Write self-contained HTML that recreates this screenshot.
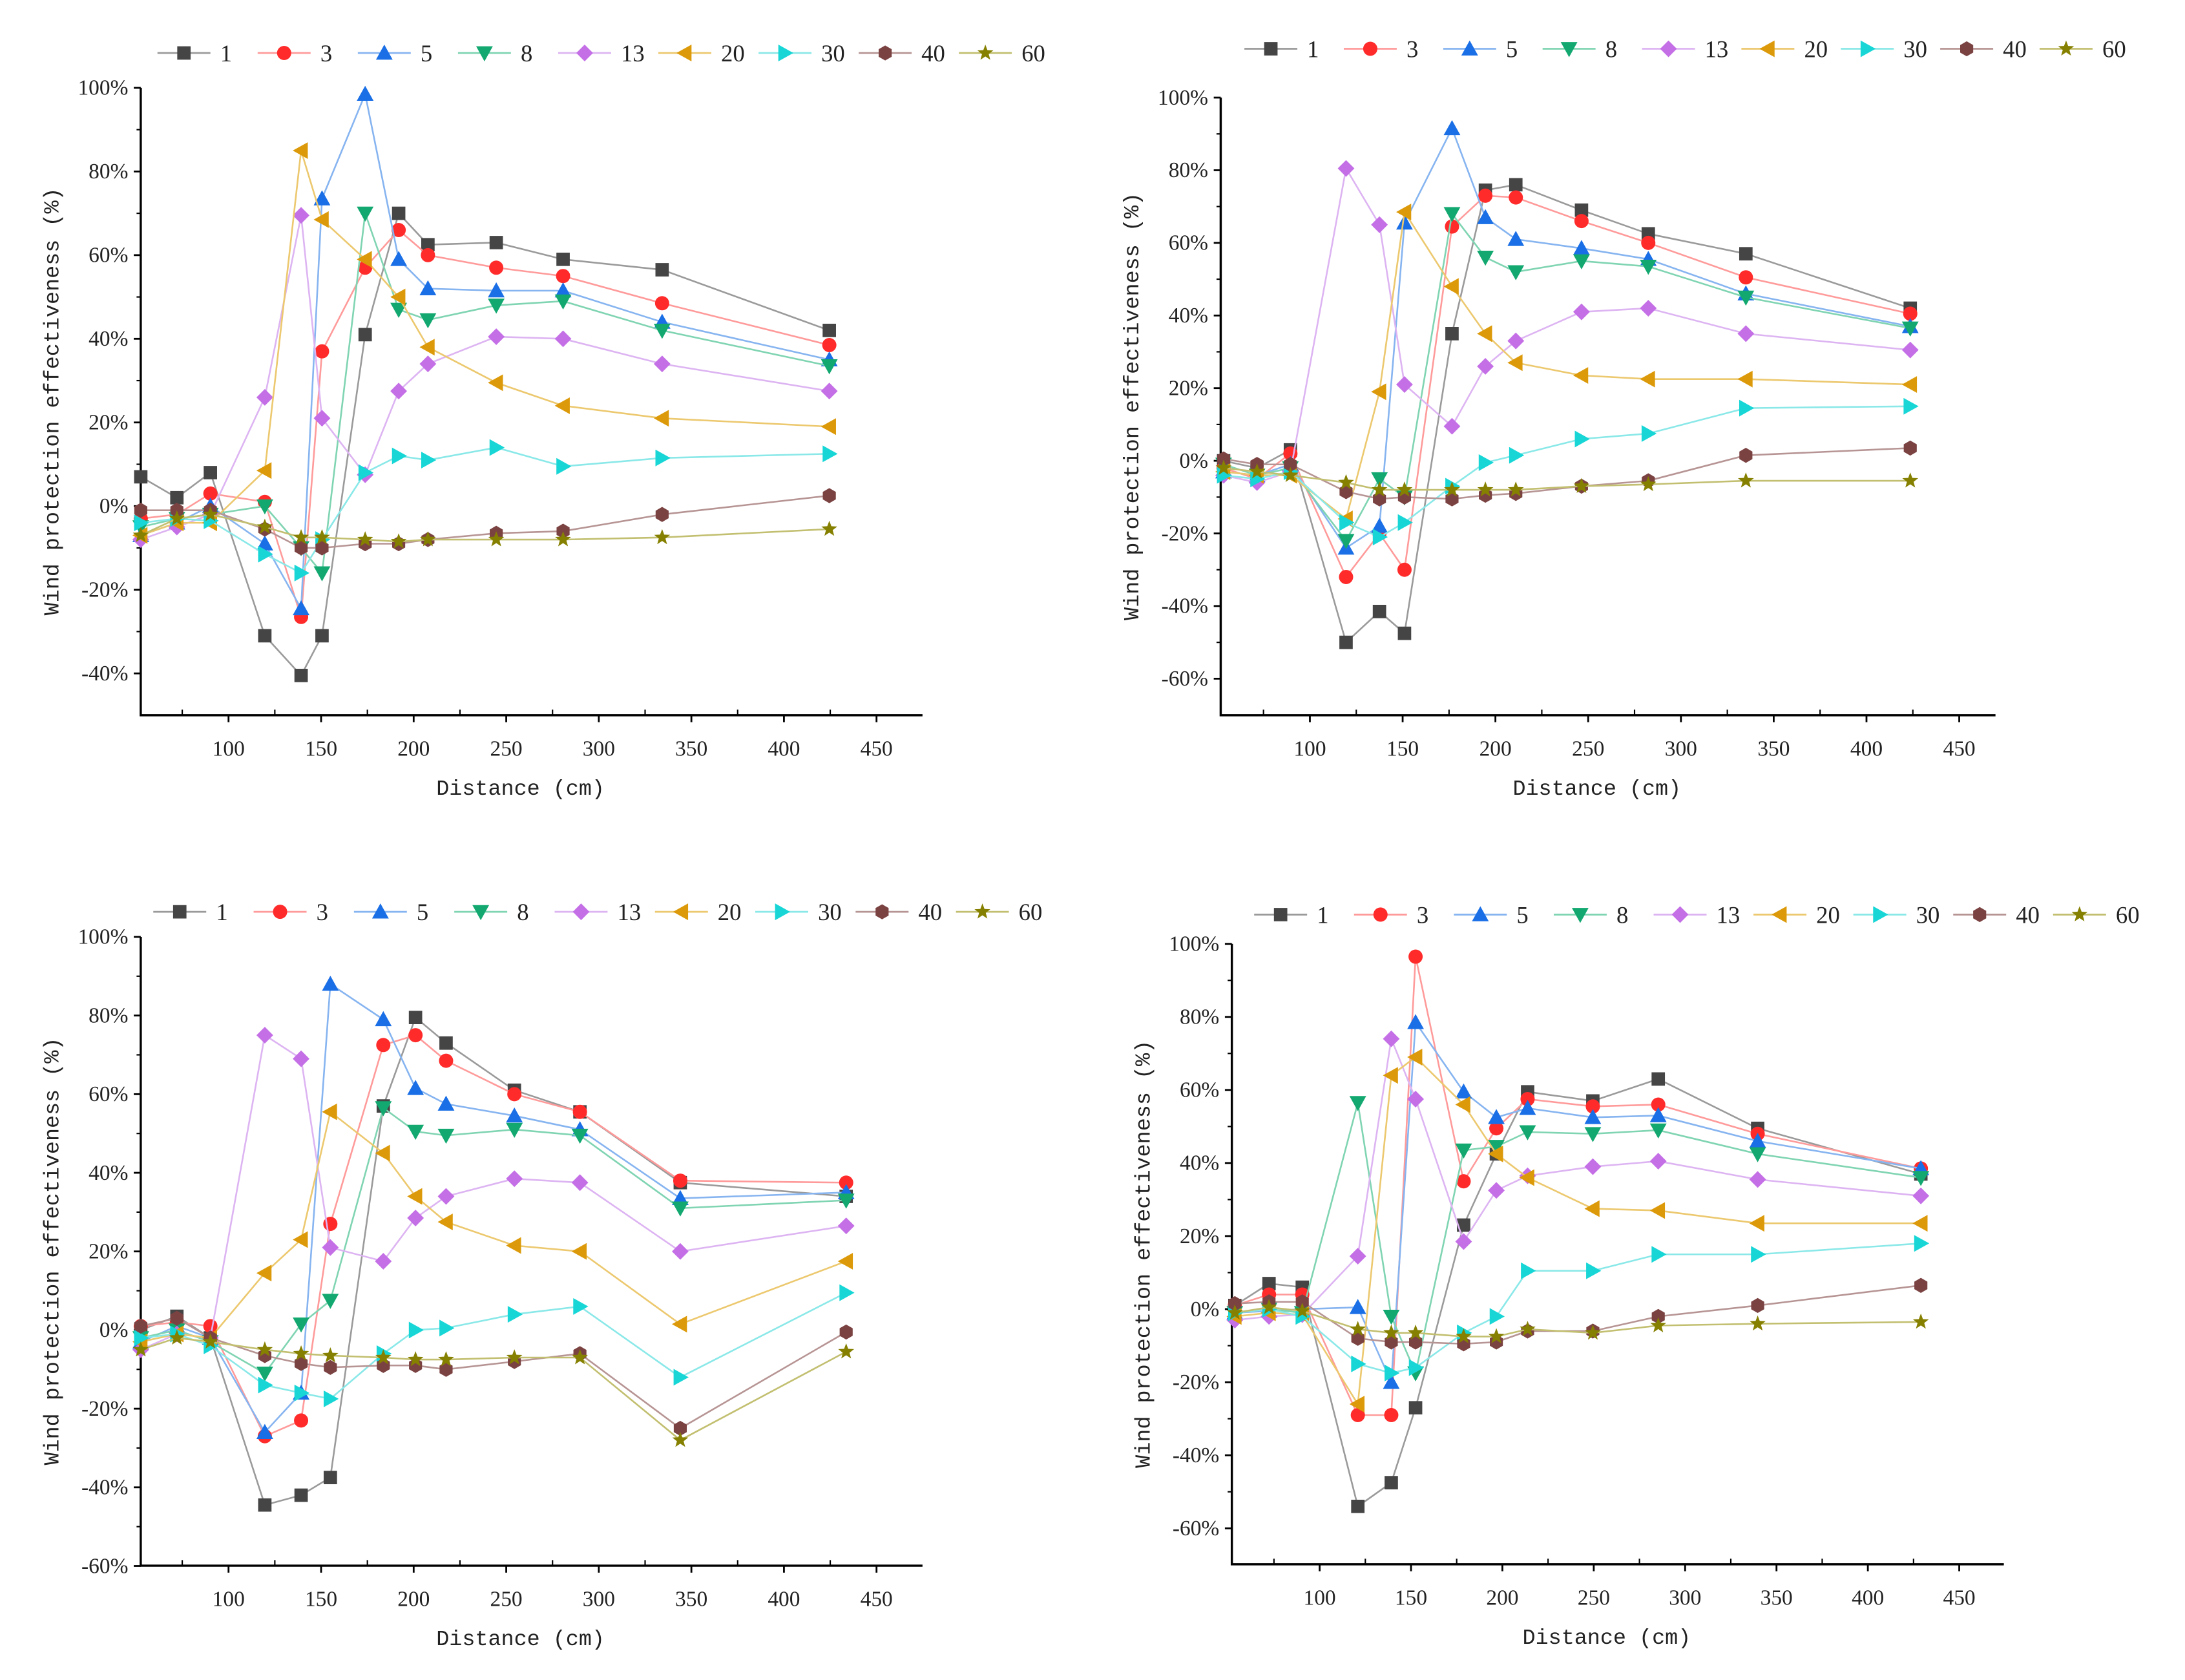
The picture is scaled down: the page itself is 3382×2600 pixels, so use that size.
<!DOCTYPE html>
<html><head><meta charset="utf-8">
<style>
html,body{margin:0;padding:0;background:#fff;}
svg{display:block;}
</style></head>
<body>
<svg id="fig" xmlns="http://www.w3.org/2000/svg" width="3382" height="2600" viewBox="0 0 1568 1205" preserveAspectRatio="none">
<rect width="1568" height="1205" fill="#fff"/>
</svg>
<script>
const seriesNames = ["1","3","5","8","13","20","30","40","60"];
const xTicks = [100,150,200,250,300,350,400,450];

const c1X = [52.6,72.1,90.2,119.6,139.2,150.5,173.8,191.9,207.7,244.6,280.7,334.2,424.5];
const c1Values = [
 [7,2,8,-31,-40.5,-31,41,70,62.5,63,59,56.5,42],
 [-3,-2,3,1,-26.5,37,57,66,60,57,55,48.5,38.5],
 [-7,-4,0,-9,-24.5,73.5,98.5,59,52,51.5,51.5,44,35],
 [-5,-3,-2,0,-10,-16,70,47,44.5,48,49,42,33.5],
 [-8,-5,-2,26,69.5,21,7.5,27.5,34,40.5,40,34,27.5],
 [-7,-4,-4,8.5,85,68.5,59,50,38,29.5,24,21,19],
 [-4,-3,-3.5,-11.5,-16,-8,8,12,11,14,9.5,11.5,12.5],
 [-1,-1,-1,-5.5,-10,-10,-9,-9,-8,-6.5,-6,-2,2.5],
 [-7,-3,-2,-5,-7.5,-7.5,-8,-8.5,-8,-8,-8,-7.5,-5.5]
];
const c1YTicks = [100,80,60,40,20,0,-20,-40];

const c2X = [53.5,71.5,89.5,119.5,137.5,151,176.6,194.6,211,246.4,282.4,335,423.6];
const c2Values = [
 [0,-2,3,-50,-41.5,-47.5,35,74.5,76,69,62.5,57,42],
 [-2,-5,2,-32,-20,-30,64.5,73,72.5,66,60,50.5,40.5],
 [-3,-4,-1,-24,-18,65.5,91.5,67,61,58.5,55.5,46,37],
 [-1,-4,-2,-22,-5,-10,68,56,52,55,53.5,45,36.5],
 [-4,-6,-3,80.5,65,21,9.5,26,33,41,42,35,30.5],
 [-3,-4,-4,-16,19,68.5,48,35,27,23.5,22.5,22.5,21],
 [-4,-5,-3,-17,-21,-17,-7,-0.5,1.5,6,7.5,14.5,15],
 [0.5,-1,-1,-8.5,-10.5,-10,-10.5,-9.5,-9,-7,-5.5,1.5,3.5],
 [-2,-3,-4,-6,-8,-8,-8,-8,-8,-7,-6.5,-5.5,-5.5]
];
const c2YTicks = [100,80,60,40,20,0,-20,-40,-60];

const c3X = [52.6,72.1,90.2,119.6,139.2,155,183.6,201,217.5,254.4,289.8,344,433.6];
const c3Values = [
 [0,3.5,-2,-44.5,-42,-37.5,57,79.5,73,61,55.5,37.5,34],
 [1,2,1,-27,-23,27,72.5,75,68.5,60,55.5,38,37.5],
 [-3,1,-2,-26,-16,88,79,61.5,57.5,54.5,51,33.5,35],
 [-2,0,-3,-11,1.5,7.5,56.5,50.5,49.5,51,49.5,31,33],
 [-5,-1,-2,75,69,21,17.5,28.5,34,38.5,37.5,20,26.5],
 [-3,-1,-2,14.5,23,55.5,45,34,27.5,21.5,20,1.5,17.5],
 [-2,-1,-4,-14,-16,-17.5,-6,0,0.5,4,6,-12,9.5],
 [1,3,-2,-6.5,-8.5,-9.5,-9,-9,-10,-8,-6,-25,-0.5],
 [-5,-2,-3,-5,-6,-6.5,-7,-7.5,-7.5,-7,-7,-28,-5.5]
];
const c3YTicks = [100,80,60,40,20,0,-20,-40,-60];

const c4X = [53.6,72.3,90.5,120.9,139.2,152.5,178.8,196.7,213.8,249.5,285.3,339.7,429];
const c4Values = [
 [1,7,6,-54,-47.5,-27,23,42.5,59.5,57,63,49.5,37],
 [1,4,4,-29,-29,96.5,35,49.5,57.5,55.5,56,48,38.5],
 [-1,-0.5,0,0.5,-20,78.5,59.5,52.5,55,52.5,53,46,38.5],
 [-1,0,-1,56.5,-2,-17.5,43.5,44.5,48.5,48,49,42.5,36],
 [-3,-2,-1.5,14.5,74,57.5,18.5,32.5,36.5,39,40.5,35.5,31],
 [-2,-1,-1.5,-26,64,69,56,42.5,36,27.5,27,23.5,23.5],
 [-1,0,-2,-15,-17.5,-16,-6.5,-2,10.5,10.5,15,15,18],
 [1.5,2,2,-8,-9,-9,-9.5,-9,-6,-6,-2,1,6.5],
 [-1,0.5,-0.5,-5.5,-6.5,-6.5,-7.5,-7.5,-5.5,-6.5,-4.5,-4,-3.5]
];
const c4YTicks = [100,80,60,40,20,0,-20,-40,-60];

const markerColors = ["#454545","#ff2b2b","#1a6fe6","#12a870","#c46fe6","#dc9a0a","#18d6d6","#7b4242","#858000"];
const lineColors = ["#9a9a9a","#ff9a9a","#86b4f0","#7fd4b2","#ddb4f2","#ecc86e","#8ae8e8","#b79494","#c2bf70"];
const shapes = ["square","circle","up","down","diamond","left","right","hex","star"];

const NS = "http://www.w3.org/2000/svg";
const svg = document.getElementById("fig");
function mk(tag, attrs, parent){
  const e = document.createElementNS(NS, tag);
  for (const k in attrs) e.setAttribute(k, attrs[k]);
  (parent||svg).appendChild(e);
  return e;
}
function markerPath(shape, cx, cy, r){
  let pts=[];
  if(shape==="square") return `M${cx-r*0.8},${cy-r*0.8}h${1.6*r}v${1.6*r}h${-1.6*r}z`;
  if(shape==="circle") return `M${cx-r*0.85},${cy}a${r*0.85},${r*0.85} 0 1,0 ${1.7*r},0a${r*0.85},${r*0.85} 0 1,0 ${-1.7*r},0z`;
  if(shape==="up") pts=[[cx,cy-r],[cx+r,cy+0.8*r],[cx-r,cy+0.8*r]];
  if(shape==="down") pts=[[cx,cy+r],[cx+r,cy-0.8*r],[cx-r,cy-0.8*r]];
  if(shape==="left") pts=[[cx-r,cy],[cx+0.8*r,cy-r],[cx+0.8*r,cy+r]];
  if(shape==="right") pts=[[cx+r,cy],[cx-0.8*r,cy-r],[cx-0.8*r,cy+r]];
  if(shape==="diamond") pts=[[cx,cy-r],[cx+r,cy],[cx,cy+r],[cx-r,cy]];
  if(shape==="hex"){ for(let i=0;i<6;i++){const a=Math.PI/6+i*Math.PI/3; pts.push([cx+r*0.9*Math.cos(a),cy+r*0.9*Math.sin(a)]);} }
  if(shape==="star"){ for(let i=0;i<10;i++){const a=-Math.PI/2+i*Math.PI/5; const rr=i%2?r*0.42:r; pts.push([cx+rr*Math.cos(a),cy+rr*Math.sin(a)]);} }
  return "M"+pts.map(p=>p[0].toFixed(2)+","+p[1].toFixed(2)).join("L")+"Z";
}

function drawChart(id, L, xs, values, yTicks){
  const g = mk("g",{});
  
  
  const xScale = v => L.x100 + (v-100)/50*L.px50;
  const yScale = v => L.y0 - v/20*L.py20;
  const lg = mk("g",{},g);
  
  
  const step = (L.legR - L.legL)/9;
  seriesNames.forEach((n,i)=>{
    const e = mk("g",{},lg);
    
    
    const x0 = L.legL + i*step;
    mk("line",{x1:x0,y1:L.legY,x2:x0+38,y2:L.legY,stroke:lineColors[i],"stroke-width":1.3},e);
    mk("path",{d:markerPath(shapes[i],x0+19,L.legY,6),fill:markerColors[i]},e);
    const t = mk("text",{x:x0+45,y:L.legY+6,"font-family":"Liberation Serif, serif","font-size":17,fill:"#222"},e);
    t.textContent = n;
  });
  const yTop = L.y0 - 100/20*L.py20;
  const ax = mk("path",{d:`M${L.axL},${yTop}V${L.axB}H${L.axR}`,stroke:"#000","stroke-width":1.6,fill:"none"},g);
  
  
  yTicks.forEach(v=>{
    const y=yScale(v);
    mk("line",{x1:L.axL-5,y1:y,x2:L.axL,y2:y,stroke:"#000","stroke-width":1.3},g);
    const t=mk("text",{x:L.axL-9,y:y+5,"text-anchor":"end","font-family":"Liberation Serif, serif","font-size":15.5,fill:"#222"},g);
    
    
    t.textContent = v+"%";
    const ym=yScale(v-10);
    if (ym < L.axB-2) mk("line",{x1:L.axL-3,y1:ym,x2:L.axL,y2:ym,stroke:"#000","stroke-width":1},g);
  });
  xTicks.forEach(v=>{
    const x=xScale(v);
    mk("line",{x1:x,y1:L.axB,x2:x,y2:L.axB+5,stroke:"#000","stroke-width":1.3},g);
    const t=mk("text",{x:x,y:L.axB+29,"text-anchor":"middle","font-family":"Liberation Serif, serif","font-size":15.5,fill:"#222"},g);
    
    
    t.textContent = v;
    const xm=xScale(v-25);
    if (xm > L.axL+2) mk("line",{x1:xm,y1:L.axB-4,x2:xm,y2:L.axB,stroke:"#000","stroke-width":1},g);
  });
  const xt=mk("text",{x:(L.axL+L.axR)/2-8,y:L.axB+57,"text-anchor":"middle","font-family":"Liberation Mono, monospace","font-size":15.5,fill:"#222"},g);
  
  
  xt.textContent="Distance (cm)";
  const ycx=L.ytX, ycy=(yTop+L.axB)/2;
  const yt=mk("text",{x:ycx,y:ycy,"text-anchor":"middle","font-family":"Liberation Mono, monospace","font-size":15.5,fill:"#222",transform:`rotate(-90 ${ycx} ${ycy})`},g);
  
  
  yt.textContent="Wind protection effectiveness (%)";
  values.forEach((vals,i)=>{
    const sg = mk("g",{},g);
    
    
    const d = vals.map((v,j)=>(j?"L":"M")+xScale(xs[j]).toFixed(2)+","+yScale(v).toFixed(2)).join("");
    const ln = mk("path",{d:d,stroke:lineColors[i],"stroke-width":1.2,fill:"none"},sg);
    
    
    vals.forEach((v,j)=>{
      const p = mk("path",{d:markerPath(shapes[i],xScale(xs[j]),yScale(v),6),fill:markerColors[i]},sg);
      
      
    });
  });
}

drawChart("chart-top-left",{x100:164,px50:66.43,y0:363,py20:60,axL:101,axR:662,axB:513,legL:113,legR:760,legY:38,ytX:42},c1X,c1Values,c1YTicks);
drawChart("chart-top-right",{x100:940,px50:66.57,y0:330.5,py20:52.1,axL:876,axR:1432,axB:513,legL:893,legR:1535,legY:35,ytX:817},c2X,c2Values,c2YTicks);
drawChart("chart-bottom-left",{x100:164,px50:66.43,y0:954,py20:56.4,axL:101,axR:662,axB:1123,legL:110,legR:758,legY:654,ytX:42},c3X,c3Values,c3YTicks);
drawChart("chart-bottom-right",{x100:947,px50:65.57,y0:939,py20:52.4,axL:884,axR:1438,axB:1122,legL:900,legR:1545,legY:656,ytX:825},c4X,c4Values,c4YTicks);
</script>
</body></html>
